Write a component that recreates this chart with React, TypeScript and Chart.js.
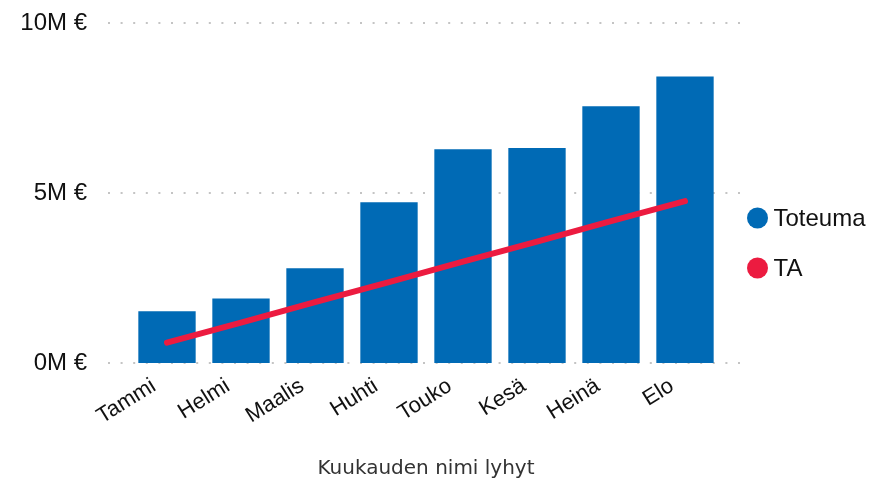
import React, { useEffect, useRef } from 'react';
import { Chart, registerables } from 'chart.js';

Chart.register(...registerables);

const months = ['Tammi', 'Helmi', 'Maalis', 'Huhti', 'Touko', 'Kesä', 'Heinä', 'Elo'];
const toteuma = [1520000, 1900000, 2790000, 4730000, 6290000, 6320000, 7550000, 8430000];
const ta = [600000, 1190000, 1790000, 2380000, 2980000, 3570000, 4170000, 4760000];
const yTickValues = [0, 5000000, 10000000];
const seriesNames = ['Toteuma', 'TA'];
const xTitle = 'Kuukauden nimi lyhyt';

const BAR_COLOR = '#006AB5';
const LINE_COLOR = '#EC1B40';
const FONT = '"Liberation Sans", Arial, sans-serif';

const dottedGrid = {
  id: 'dottedGrid',
  beforeDatasetsDraw(chart: any) {
    const { ctx, chartArea, scales } = chart;
    const y = scales.y;
    ctx.save();
    ctx.strokeStyle = '#C4C4C4';
    ctx.lineWidth = 2;
    ctx.setLineDash([2, 10.6]);
    y.ticks.forEach((t: any) => {
      const py = Math.round(y.getPixelForValue(t.value));
      ctx.beginPath();
      ctx.moveTo(chartArea.left - 22, py);
      ctx.lineTo(chartArea.right + 18, py);
      ctx.stroke();
    });
    ctx.restore();
  },
};

const customLegend = {
  id: 'customLegend',
  afterDraw(chart: any) {
    const { ctx, chartArea } = chart;
    const cx = chartArea.right + 35.5;
    const startY = 218;
    const gap = 50;
    ctx.save();
    ctx.font = `24px ${FONT}`;
    ctx.textBaseline = 'middle';
    ctx.textAlign = 'left';
    chart.data.datasets.forEach((ds: any, i: number) => {
      const cy = startY + i * gap;
      ctx.beginPath();
      ctx.fillStyle = ds.legendColor;
      ctx.arc(cx, cy, 10.5, 0, Math.PI * 2);
      ctx.fill();
      ctx.fillStyle = '#111';
      ctx.fillText(ds.label, cx + 16, cy + 1);
    });
    ctx.restore();
  },
};

export default function App() {
  const canvasRef = useRef<HTMLCanvasElement | null>(null);

  useEffect(() => {
    document.body.style.margin = '0';
    const canvas = canvasRef.current;
    if (!canvas) return;
    const chart = new Chart(canvas, {
      type: 'bar',
      data: {
        labels: months,
        datasets: [
          {
            type: 'bar',
            label: seriesNames[0],
            data: toteuma,
            backgroundColor: BAR_COLOR,
            legendColor: BAR_COLOR,
            categoryPercentage: 1,
            barPercentage: 0.775,
            order: 1,
          } as any,
          {
            type: 'line',
            label: seriesNames[1],
            data: ta,
            borderColor: LINE_COLOR,
            legendColor: LINE_COLOR,
            borderWidth: 6,
            borderCapStyle: 'round',
            pointRadius: 0,
            tension: 0,
            fill: false,
            order: 0,
          } as any,
        ],
      },
      options: {
        responsive: false,
        animation: false,
        devicePixelRatio: 1,
        layout: { padding: { left: 0, right: 151, top: 23, bottom: 0 } },
        plugins: {
          legend: { display: false },
          tooltip: { enabled: false },
        },
        scales: {
          x: {
            grid: { display: false, drawTicks: false },
            border: { display: false },
            ticks: {
              font: { family: FONT, size: 22 },
              color: '#111',
              minRotation: 32,
              maxRotation: 32,
              autoSkip: false,
              padding: 10,
              labelOffset: -13,
            },
            title: {
              display: true,
              text: xTitle,
              font: { family: '"DejaVu Sans", sans-serif', size: 20 },
              color: '#333',
              padding: { top: 0, bottom: 3 },
            },
            afterFit(scale: any) {
              scale.height = 121;
              scale.paddingLeft = 0;
              scale.paddingRight = 0;
            },
          },
          y: {
            min: 0,
            max: 10000000,
            grid: { display: false, drawTicks: false },
            border: { display: false },
            afterBuildTicks(scale: any) {
              scale.ticks = yTickValues.map((v) => ({ value: v }));
            },
            ticks: {
              font: { family: FONT, size: 24 },
              color: '#111',
              padding: 43,
              callback: (v: any) => `${Number(v) / 1000000}M €`,
            },
            afterFit(scale: any) {
              scale.width = 130;
              scale.paddingTop = 0;
              scale.paddingBottom = 0;
            },
          },
        },
      },
      plugins: [dottedGrid, customLegend],
    });
    return () => chart.destroy();
  }, []);

  return (
    <div style={{ position: 'absolute', left: 0, top: 0, width: 873, height: 484 }}>
      <canvas ref={canvasRef} width={873} height={484} />
    </div>
  );
}
